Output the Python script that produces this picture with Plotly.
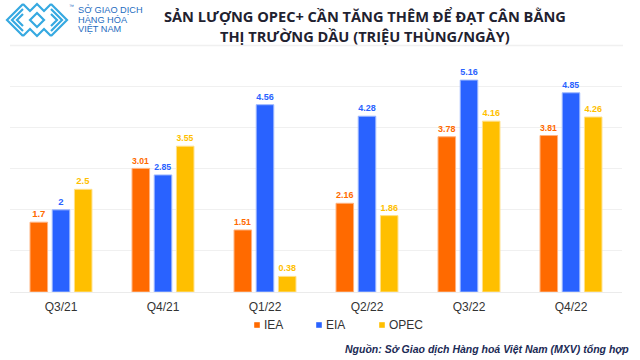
import plotly.graph_objects as go

categories = ["Q3/21", "Q4/21", "Q1/22", "Q2/22", "Q3/22", "Q4/22"]
iea = [1.7, 3.01, 1.51, 2.16, 3.78, 3.81]
eia = [2, 2.85, 4.56, 4.28, 5.16, 4.85]
opec = [2.5, 3.55, 0.38, 1.86, 4.16, 4.26]
series_names = ["IEA", "EIA", "OPEC"]
colors = ["#FF6A00", "#2962FF", "#FFBF00"]
edge_colors = ["#FFB27F", "#9DB8FF", "#FFE08A"]

W, H = 640, 360
L, R, T, B = 10, 18, 62, 68
PW, PH = W - L - R, H - T - B


def px(x):
    return (x - L) / PW


def py(y):
    return (H - B - y) / PH


fig = go.Figure()
for name, vals, c, ec in zip(series_names, [iea, eia, opec], colors, edge_colors):
    fig.add_trace(go.Bar(
        x=categories, y=vals, name=name,
        marker=dict(color=c, line=dict(color=ec, width=1)),
        texttemplate="%{y}", textposition="outside",
        textfont=dict(family="Arial", size=9.5, color=c, weight="bold"),
        cliponaxis=False, showlegend=False,
    ))

shapes = []
# line under title
shapes.append(dict(type="line", xref="paper", yref="paper", x0=px(10), x1=px(623),
                   y0=py(45.5), y1=py(45.5), line=dict(color="#F0F0F0", width=1.5)))

# logo icon (approximate woven chevron pattern)
logo_col = "#36A9E1"
paths = []
for k in range(3):
    d = 5 * k
    s = 16 - d
    paths.append(f"M{px(7 + d + s)},{py(20 - s)} L{px(7 + d)},{py(20)} L{px(7 + d + s)},{py(20 + s)}")
    paths.append(f"M{px(67 - d - s)},{py(20 - s)} L{px(67 - d)},{py(20)} L{px(67 - d - s)},{py(20 + s)}")
paths.append(f"M{px(23)},{py(4)} L{px(30)},{py(11)} L{px(37)},{py(4)} L{px(44)},{py(11)} L{px(51)},{py(4)}")
paths.append(f"M{px(23)},{py(36)} L{px(30)},{py(29)} L{px(37)},{py(36)} L{px(44)},{py(29)} L{px(51)},{py(36)}")
paths.append(f"M{px(37)},{py(13)} L{px(44)},{py(20)} L{px(37)},{py(27)} L{px(30)},{py(20)} Z")
for p in paths:
    shapes.append(dict(type="path", xref="paper", yref="paper", path=p,
                       line=dict(color=logo_col, width=2.2)))

annotations = []
for i, t in enumerate(["SỞ GIAO DỊCH", "HÀNG HÓA", "VIỆT NAM"]):
    annotations.append(dict(text=t, xref="paper", yref="paper", x=px(76), y=py(10 + 9.7 * i),
                            xanchor="left", yanchor="middle", showarrow=False,
                            font=dict(family="Liberation Sans Narrow, Arial Narrow, Arial", size=9.2,
                                      color="#1E6CC0")))
annotations.append(dict(text="™", xref="paper", yref="paper", x=px(67), y=py(6),
                        xanchor="left", yanchor="middle", showarrow=False,
                        font=dict(family="Arial", size=5, color="#1E6CC0")))

# title
for t, yy in [("SẢN LƯỢNG OPEC+ CẦN TĂNG THÊM ĐỂ ĐẠT CÂN BẰNG", 16),
              ("THỊ TRƯỜNG DẦU (TRIỆU THÙNG/NGÀY)", 35.5)]:
    annotations.append(dict(text=t, xref="paper", yref="paper", x=px(365), y=py(yy),
                            xanchor="center", yanchor="middle", showarrow=False,
                            font=dict(family="Open Sans", size=14.6, color="#1F2230", weight="bold")))

# legend (custom)
for name, c, mx in zip(series_names, colors, [257, 319, 382]):
    shapes.append(dict(type="rect", xref="paper", yref="paper",
                       x0=px(mx - 2.8), x1=px(mx + 2.8), y0=py(325 - 2.8), y1=py(325 + 2.8),
                       fillcolor=c, line=dict(width=0)))
    annotations.append(dict(text=name, xref="paper", yref="paper", x=px(mx + 5), y=py(325),
                            xanchor="left", yanchor="middle", showarrow=False,
                            font=dict(family="Arial", size=12, color="#333333")))

# source
annotations.append(dict(text="<b><i>Nguồn: Sở Giao dịch Hàng hoá Việt Nam (MXV) tổng hợp</i></b>",
                        xref="paper", yref="paper", x=px(631), y=py(349),
                        xanchor="right", yanchor="middle", showarrow=False,
                        font=dict(family="Arial", size=10.5, color="#1B2A55")))

fig.update_layout(
    width=W, height=H,
    margin=dict(l=L, r=R, t=T, b=B, pad=0),
    paper_bgcolor="white", plot_bgcolor="white",
    barmode="group", bargap=0.347, bargroupgap=0.21,
    shapes=shapes, annotations=annotations,
    xaxis=dict(showgrid=False, showline=True, linecolor="#EBEBEB", linewidth=1,
               ticks="", tickfont=dict(family="Arial", size=12, color="#333333"),
               ticklabelstandoff=4),
    yaxis=dict(range=[0, 5.6], dtick=1, showgrid=True, gridcolor="#F0F0F0", gridwidth=1,
               showticklabels=False, zeroline=False, ticks=""),
    font=dict(family="Arial"),
)

fig.write_html("out.html", config={"displayModeBar": False},
               post_script="document.body.style.margin='0';")
